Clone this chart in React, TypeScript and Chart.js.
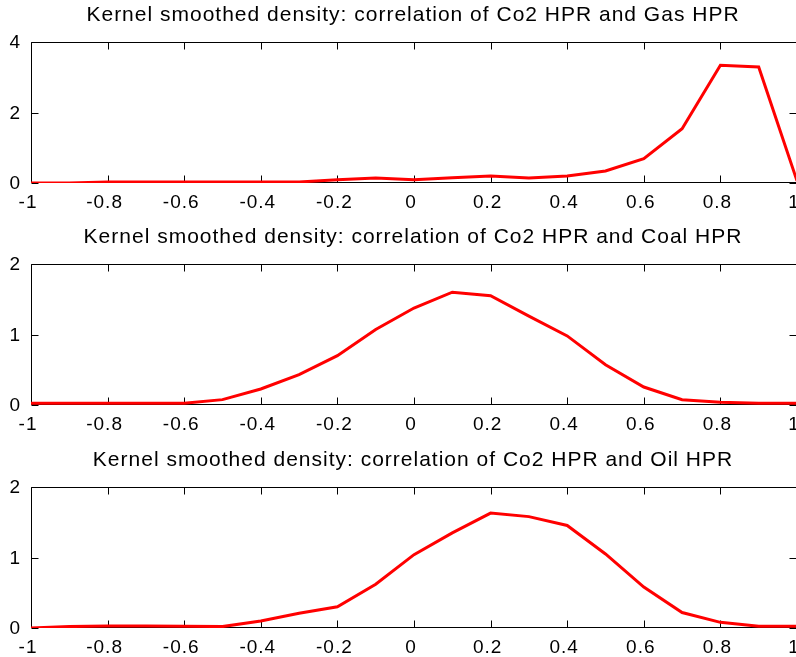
import React, { useEffect, useRef } from "react";
import { Chart, registerables } from "chart.js";

Chart.register(...registerables);

const correlationGrid = [-1, -0.9, -0.8, -0.7, -0.6, -0.5, -0.4, -0.3, -0.2, -0.1, 0, 0.1, 0.2, 0.3, 0.4, 0.5, 0.6, 0.7, 0.8, 0.9, 1];
const gasDensity = [0, 0, 0.03, 0.03, 0.03, 0.03, 0.03, 0.03, 0.09, 0.14, 0.09, 0.15, 0.2, 0.14, 0.2, 0.34, 0.69, 1.54, 3.34, 3.29, 0.06];
const coalDensity = [0.025, 0.025, 0.025, 0.025, 0.025, 0.076, 0.227, 0.43, 0.7, 1.07, 1.376, 1.6, 1.55, 1.26, 0.98, 0.57, 0.255, 0.076, 0.04, 0.025, 0.025];
const oilDensity = [0, 0.02, 0.03, 0.03, 0.025, 0.02, 0.1, 0.21, 0.3, 0.62, 1.04, 1.35, 1.63, 1.58, 1.455, 1.05, 0.58, 0.22, 0.08, 0.025, 0.025];

const titles = [
  "Kernel smoothed density: correlation of Co2 HPR and Gas HPR",
  "Kernel smoothed density: correlation of Co2 HPR and Coal HPR",
  "Kernel smoothed density: correlation of Co2 HPR and Oil HPR",
];
const yMaxes = [4, 2, 2];
const yStepSizes = [2, 1, 1];
const seriesList = [gasDensity, coalDensity, oilDensity];

const FONT = "'Liberation Sans', Arial, Helvetica, sans-serif";
const CANVAS_W = 826;
const PANEL_TOPS = [0, 222, 445];
const PANEL_HEIGHTS = [222, 223, 212];
const AREA_BOTTOM = 183;

const spacingPlugin = {
  id: "spacing",
  beforeDraw(chart: any) {
    chart.ctx.letterSpacing = "1px";
  },
};

const framePlugin = {
  id: "frame",
  beforeDatasetsDraw(chart: any) {
    const { ctx, chartArea: a, scales } = chart;
    const L = Math.round(a.left) + 0.5;
    const R = Math.round(a.right) - 0.5;
    const T = Math.round(a.top) + 0.5;
    const B = Math.round(a.bottom) - 0.5;
    const tl = 7;
    ctx.save();
    ctx.strokeStyle = "#000";
    ctx.lineWidth = 1;
    ctx.beginPath();
    ctx.moveTo(L, T);
    ctx.lineTo(R, T);
    ctx.lineTo(R, B);
    ctx.lineTo(L, B);
    ctx.closePath();
    scales.x.ticks.forEach((_t: any, i: number) => {
      const px = Math.round(scales.x.getPixelForTick(i)) + 0.5;
      ctx.moveTo(px, T);
      ctx.lineTo(px, T + tl);
      ctx.moveTo(px, B);
      ctx.lineTo(px, B - tl);
    });
    scales.y.ticks.forEach((_t: any, i: number) => {
      const py = Math.round(scales.y.getPixelForTick(i)) + 0.5;
      ctx.moveTo(L, py);
      ctx.lineTo(L + tl, py);
      ctx.moveTo(R, py);
      ctx.lineTo(R - tl, py);
    });
    ctx.stroke();
    ctx.restore();
  },
};

function Panel({ index }: { index: number }) {
  const ref = useRef<HTMLCanvasElement | null>(null);
  useEffect(() => {
    if (!ref.current) return;
    const h = PANEL_HEIGHTS[index];
    const values = seriesList[index];
    const chart = new Chart(ref.current, {
      type: "line",
      data: {
        datasets: [
          {
            data: correlationGrid.map((x, i) => ({ x, y: values[i] })),
            borderColor: "#ff0000",
            borderWidth: 3,
            pointRadius: 0,
            tension: 0,
            fill: false,
          },
        ],
      },
      options: {
        animation: false,
        responsive: false,
        devicePixelRatio: 1,
        layout: { padding: 0 },
        plugins: {
          legend: { display: false },
          tooltip: { enabled: false },
          title: {
            display: true,
            text: titles[index],
            color: "#000",
            font: { family: FONT, size: 21, weight: "normal" as any, lineHeight: 1.2 },
            padding: { top: 2.7, bottom: 14.1 },
          },
        },
        scales: {
          x: {
            type: "linear",
            min: -1,
            max: 1,
            grid: { display: false, drawTicks: false },
            border: { display: false },
            ticks: {
              stepSize: 0.2,
              padding: 8,
              labelOffset: -3,
              maxRotation: 0,
              autoSkip: false,
              color: "#000",
              font: { family: FONT, size: 19 },
              callback: (v: any) => String(Math.round(Number(v) * 10) / 10),
            },
            afterFit: (s: any) => {
              s.height = h - AREA_BOTTOM;
            },
          },
          y: {
            type: "linear",
            position: "left",
            min: 0,
            max: yMaxes[index],
            grid: { display: false, drawTicks: false },
            border: { display: false },
            ticks: {
              stepSize: yStepSizes[index],
              padding: 10,
              labelOffset: 1,
              color: "#000",
              font: { family: FONT, size: 19 },
              callback: (v: any) => String(v),
            },
            afterFit: (s: any) => {
              s.width = 31;
            },
          },
          yRight: {
            type: "linear",
            position: "right",
            display: true,
            grid: { display: false, drawTicks: false },
            border: { display: false },
            ticks: { display: false },
            afterFit: (s: any) => {
              s.width = CANVAS_W - 797;
            },
          },
        },
      },
      plugins: [spacingPlugin, framePlugin],
    });
    return () => chart.destroy();
  }, [index]);
  return (
    <canvas
      ref={ref}
      width={CANVAS_W}
      height={PANEL_HEIGHTS[index]}
      style={{
        position: "absolute",
        left: 0,
        top: PANEL_TOPS[index],
        width: CANVAS_W,
        height: PANEL_HEIGHTS[index],
        display: "block",
      }}
    />
  );
}

export default function App() {
  return (
    <div
      style={{
        position: "absolute",
        left: 0,
        top: 0,
        width: 796,
        height: 657,
        overflow: "hidden",
        background: "#fff",
      }}
    >
      <Panel index={0} />
      <Panel index={1} />
      <Panel index={2} />
    </div>
  );
}
